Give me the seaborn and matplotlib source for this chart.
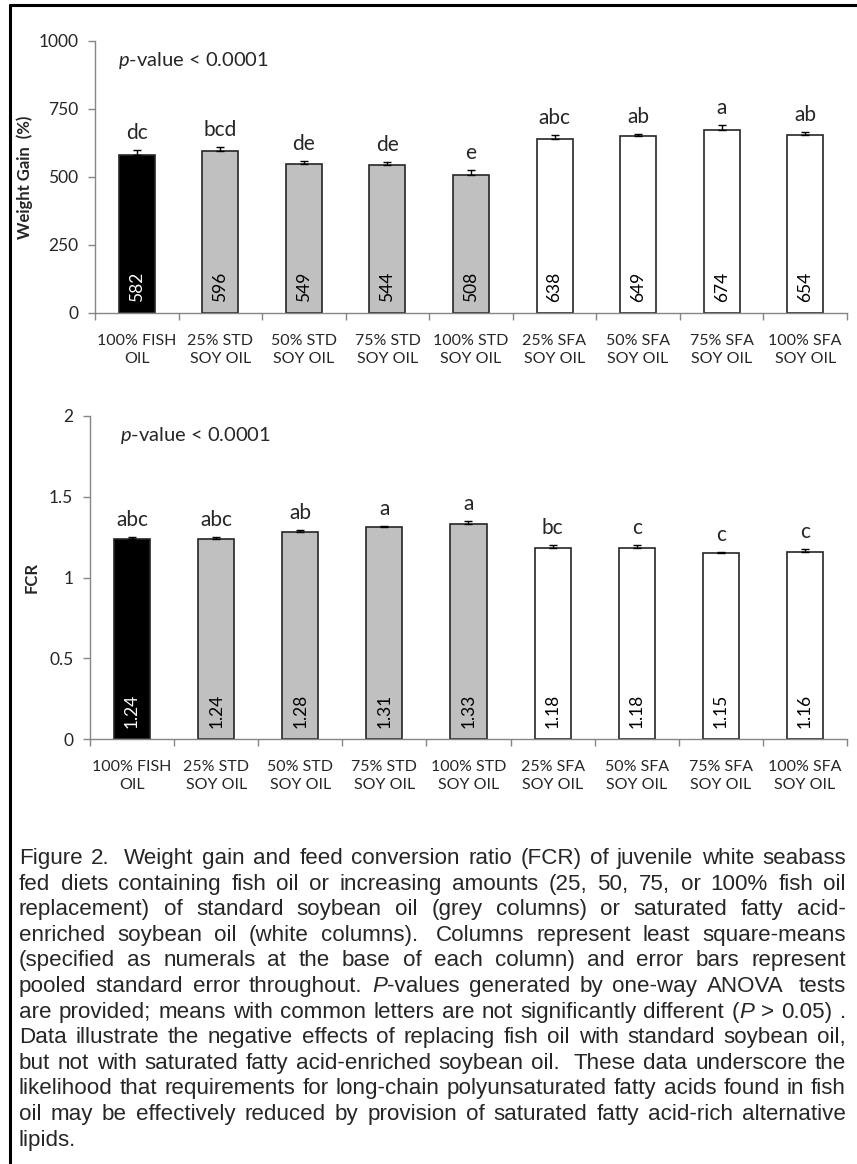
import matplotlib
matplotlib.use("Agg")
import matplotlib.pyplot as plt
from matplotlib.lines import Line2D
import numpy as np
import pandas as pd
import seaborn as sns

# data
diets = ["100% FISH\nOIL", "25% STD\nSOY OIL", "50% STD\nSOY OIL", "75% STD\nSOY OIL",
         "100% STD\nSOY OIL", "25% SFA\nSOY OIL", "50% SFA\nSOY OIL", "75% SFA\nSOY OIL",
         "100% SFA\nSOY OIL"]
oil_group = ["fish", "std", "std", "std", "std", "sfa", "sfa", "sfa", "sfa"]

weight_gain = [582, 596, 549, 544, 508, 638, 649, 674, 654]
weight_gain_se = [16, 15, 10, 10, 16, 16, 10, 16, 11]
weight_gain_letters = ["dc", "bcd", "de", "de", "e", "abc", "ab", "a", "ab"]

fcr = [1.24, 1.24, 1.28, 1.31, 1.33, 1.18, 1.18, 1.15, 1.16]
fcr_se = [0.008, 0.008, 0.016, 0.006, 0.02, 0.02, 0.02, 0.008, 0.016]
fcr_letters = ["abc", "abc", "ab", "a", "a", "bc", "c", "c", "c"]

wg_ticks = [0, 250, 500, 750, 1000]
fcr_ticks = [0, 0.5, 1, 1.5, 2]
fcr_ticklabels = ["0", "0.5", "1", "1.5", "2"]

caption_lines = [
    "Figure 2.  Weight gain and feed conversion ratio (FCR) of juvenile white seabass",
    "fed diets containing fish oil or increasing amounts (25, 50, 75, or 100% fish oil",
    "replacement) of standard soybean oil (grey columns) or saturated fatty acid-",
    "enriched soybean oil (white columns).  Columns represent least square-means",
    "(specified as numerals at the base of each column) and error bars represent",
    "pooled standard error throughout. *P*-values generated by one-way ANOVA  tests",
    "are provided; means with common letters are not significantly different (*P* > 0.05) .",
    "Data illustrate the negative effects of replacing fish oil with standard soybean oil,",
    "but not with saturated fatty acid-enriched soybean oil.  These data underscore the",
    "likelihood that requirements for long-chain polyunsaturated fatty acids found in fish",
    "oil may be effectively reduced by provision of saturated fatty acid-rich alternative",
    "lipids.",
]

palette = {"fish": "black", "std": "#c0c0c0", "sfa": "white"}

sns.set_style("ticks")
plt.rcParams["font.family"] = ["Lato", "DejaVu Sans"]
plt.rcParams["mathtext.fontset"] = "custom"
plt.rcParams["mathtext.rm"] = "Lato"
plt.rcParams["mathtext.it"] = "Lato:italic"

W, H = 857, 1164
fig = plt.figure(figsize=(W / 100, H / 100), dpi=100)


def px_axes(left, top, right, bottom):
    return fig.add_axes([left / W, 1 - bottom / H, (right - left) / W, (bottom - top) / H])


def draw_panel(ax, values, se, letters, ylim, yticks, yticklabels, ylabel, ylabel_x, fmt, ptext_xy):
    df = pd.DataFrame({"diet": diets, "value": values, "group": oil_group})
    sns.barplot(data=df, x="diet", y="value", hue="group", order=diets, palette=palette,
                dodge=False, width=0.43, edgecolor="#262626", linewidth=1.2,
                errorbar=None, legend=False, ax=ax)
    xs = np.arange(len(values))
    ax.errorbar(xs, values, yerr=[np.zeros(len(se)), se], fmt="none", ecolor="black",
                elinewidth=1, capsize=3, capthick=1, zorder=5)
    for x, v, s, lab, g in zip(xs, values, se, letters, oil_group):
        ax.annotate(lab, (x, v + s), xytext=(0, 8), textcoords="offset points",
                    ha="center", va="baseline", fontsize=15)
        ax.annotate(fmt.format(v), (x, 0), xytext=(0, 8), textcoords="offset points",
                    ha="center", va="bottom", rotation=90, fontsize=12.5,
                    color="white" if g == "fish" else "black")

    ax.set_xlim(-0.5, len(values) - 0.5)
    ax.set_ylim(*ylim)
    ax.set_yticks(yticks)
    ax.set_yticklabels(yticklabels)
    ax.set_xticks(np.arange(-0.5, len(values), 1))
    ax.set_xticklabels([])
    ax.set_xticks(xs, minor=True)
    ax.set_xticklabels(diets, minor=True)
    for lbl in ax.get_xticklabels(minor=True):
        lbl.set_linespacing(1.4)
    ax.tick_params(axis="x", which="major", length=5, color="#868686", width=1)
    ax.tick_params(axis="x", which="minor", length=0, pad=15, labelsize=11.5)
    ax.tick_params(axis="y", length=5, color="#868686", width=1, pad=7, labelsize=12.5)
    for side in ["top", "right"]:
        ax.spines[side].set_visible(False)
    for side in ["left", "bottom"]:
        ax.spines[side].set_color("#868686")
        ax.spines[side].set_linewidth(1)
    ax.set_xlabel("")
    ax.set_ylabel(ylabel, fontsize=12, fontweight="bold")
    ax.yaxis.set_label_coords(ylabel_x, 0.5)
    ax.text(ptext_xy[0], ptext_xy[1], r"$\mathit{p}$-value < 0.0001", transform=ax.transAxes,
            ha="left", va="center", fontsize=14.5)


ax1 = px_axes(95, 41, 847, 313)
draw_panel(ax1, weight_gain, weight_gain_se, weight_gain_letters, (0, 1000), wg_ticks,
           [str(t) for t in wg_ticks], "Weight Gain  (%)", -0.082, "{:.0f}", (0.031, 0.93))

ax2 = px_axes(90, 416, 847, 739)
draw_panel(ax2, fcr, fcr_se, fcr_letters, (0, 2), fcr_ticks, fcr_ticklabels,
           "FCR", -0.066, "{:.2f}", (0.04, 0.94))

# frame lines on the left and top edge
fig.add_artist(Line2D([10 / W, 10 / W], [0, 1 - 5 / H], transform=fig.transFigure,
                      color="black", lw=2.2))
fig.add_artist(Line2D([10 / W, 1], [1 - 5 / H, 1 - 5 / H], transform=fig.transFigure,
                      color="black", lw=2.2))

# justified caption
cap_font = ["Liberation Sans", "DejaVu Sans"]
cap_left, cap_right = 19, 846
cap_base0, cap_step = 864, 25.6
renderer = fig.canvas.get_renderer()


def seg_width(s, italic, fs):
    t = fig.text(0, 0, s, fontsize=fs, family=cap_font,
                 style="italic" if italic else "normal")
    w = t.get_window_extent(renderer).width
    t.remove()
    return w


def split_word(word):
    parts = word.split("*")
    return [(p, i % 2 == 1) for i, p in enumerate(parts) if p]


def layout_line(line, fs):
    words, gaps = [], []
    extra = 0
    for tok in line.split(" "):
        if tok == "":
            extra += 1
            continue
        if words:
            gaps.append(1 + extra)
        extra = 0
        words.append([(s, it, seg_width(s, it, fs)) for s, it in split_word(tok)])
    return words, gaps


# pick the size so the widest line just fills the text block
base_fs = 14
sp14 = seg_width("a a", False, base_fs) - seg_width("aa", False, base_fs)
widest = 0
for line in caption_lines:
    words, gaps = layout_line(line, base_fs)
    nat = sum(w for segs in words for _, _, w in segs) + sp14 * sum(gaps)
    widest = max(widest, nat)
cap_fs = base_fs * (cap_right - cap_left - 4) / widest
space_w = seg_width("a a", False, cap_fs) - seg_width("aa", False, cap_fs)

for i, line in enumerate(caption_lines):
    words, gaps = layout_line(line, cap_fs)
    natural = sum(w for segs in words for _, _, w in segs) + space_w * sum(gaps)
    last = i == len(caption_lines) - 1
    add = 0 if (last or not gaps) else (cap_right - cap_left - natural) / len(gaps)
    x = cap_left
    y = 1 - (cap_base0 + i * cap_step) / H
    for j, segs in enumerate(words):
        for s, it, w in segs:
            fig.text(x / W, y, s, fontsize=cap_fs, family=cap_font, va="baseline",
                     style="italic" if it else "normal")
            x += w
        if j < len(gaps):
            x += space_w * gaps[j] + add

fig.savefig("out.png", dpi=100)
